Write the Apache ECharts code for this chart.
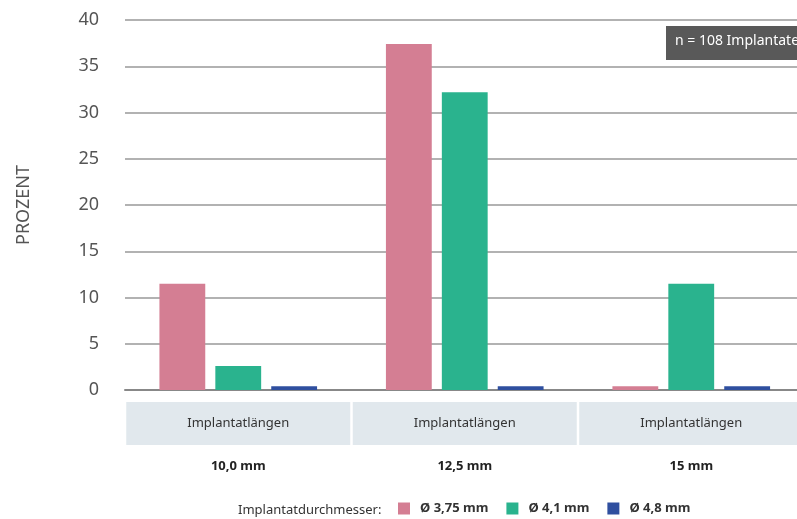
<!DOCTYPE html>
<html>
<head>
<meta charset="utf-8">
<script src="https://cdn.jsdelivr.net/npm/echarts@6/dist/echarts.min.js"></script>
<style>
  html, body { margin: 0; padding: 0; background: #fff; overflow: hidden; }
  #chart { width: 806px; height: 519px; }
</style>
</head>
<body>
<div id="chart"></div>
<script>
const categories = ['10,0 mm', '12,5 mm', '15 mm'];
const seriesNames = ['Ø 3,75 mm', 'Ø 4,1 mm', 'Ø 4,8 mm'];
const d375 = [11.5, 37.4, 0.4];
const d41 = [2.6, 32.2, 11.5];
const d48 = [0.4, 0.4, 0.4];
const colors = ['#d47e93', '#2ab38e', '#2f4f9f'];

const font = '"Noto Sans", "Open Sans", sans-serif';

// 基于准备好的dom，初始化echarts实例
const myChart = echarts.init(document.getElementById('chart'));

function bar(name, data, color) {
  return {
    name: name,
    type: 'bar',
    data: data,
    barGap: '22%',
    barCategoryGap: '30.4%',
    itemStyle: { color: color }
  };
}

let option = {
  animation: false,
  textStyle: { fontFamily: font },
  grid: { left: 125, right: 0, top: 20, bottom: 129 },
  xAxis: {
    type: 'category',
    data: categories,
    axisTick: { show: false },
    axisLine: { lineStyle: { color: '#888', width: 2 } },
    axisLabel: {
      interval: 0,
      margin: 12,
      formatter: function (v) {
        return '{box|Implantatlängen}\n{mm|' + v + '}';
      },
      rich: {
        box: {
          width: 224, height: 43, lineHeight: 43,
          align: 'center',
          backgroundColor: '#e1e8ed',
          color: '#333', fontSize: 13, fontFamily: font
        },
        mm: {
          lineHeight: 42, align: 'center',
          color: '#222', fontSize: 13, fontWeight: 'bold', fontFamily: font
        }
      }
    }
  },
  yAxis: {
    type: 'value',
    min: 0, max: 40, interval: 5,
    name: 'PROZENT',
    nameLocation: 'middle',
    nameGap: 92,
    nameTextStyle: { color: '#555', fontSize: 18, fontFamily: font },
    axisLabel: { color: '#555', fontSize: 18, margin: 26, fontFamily: font },
    splitLine: { lineStyle: { color: '#999', width: 1.5 } },
    axisLine: { show: false },
    axisTick: { show: false }
  },
  legend: {
    left: 398, bottom: 4, padding: 0,
    icon: 'rect',
    itemWidth: 12, itemHeight: 12, itemGap: 18,
    textStyle: {
      color: '#333', fontSize: 13, fontWeight: 'bold', fontFamily: font,
      padding: [0, 0, 0, 5]
    },
    data: seriesNames
  },
  graphic: [
    {
      type: 'text', left: 238, bottom: 2,
      style: { text: 'Implantatdurchmesser:', fill: '#333', fontSize: 13, fontFamily: font }
    },
    {
      type: 'group', left: 666, top: 26,
      children: [
        { type: 'rect', shape: { x: 0, y: 0, width: 140, height: 34 }, style: { fill: '#595959' } },
        {
          type: 'text', x: 9, y: 8,
          style: { text: 'n = 108 Implantate', fill: '#fff', fontSize: 14, fontFamily: font }
        }
      ]
    }
  ],
  series: [
    bar(seriesNames[0], d375, colors[0]),
    bar(seriesNames[1], d41, colors[1]),
    bar(seriesNames[2], d48, colors[2])
  ]
};

myChart.setOption(option);
</script>
</body>
</html>
